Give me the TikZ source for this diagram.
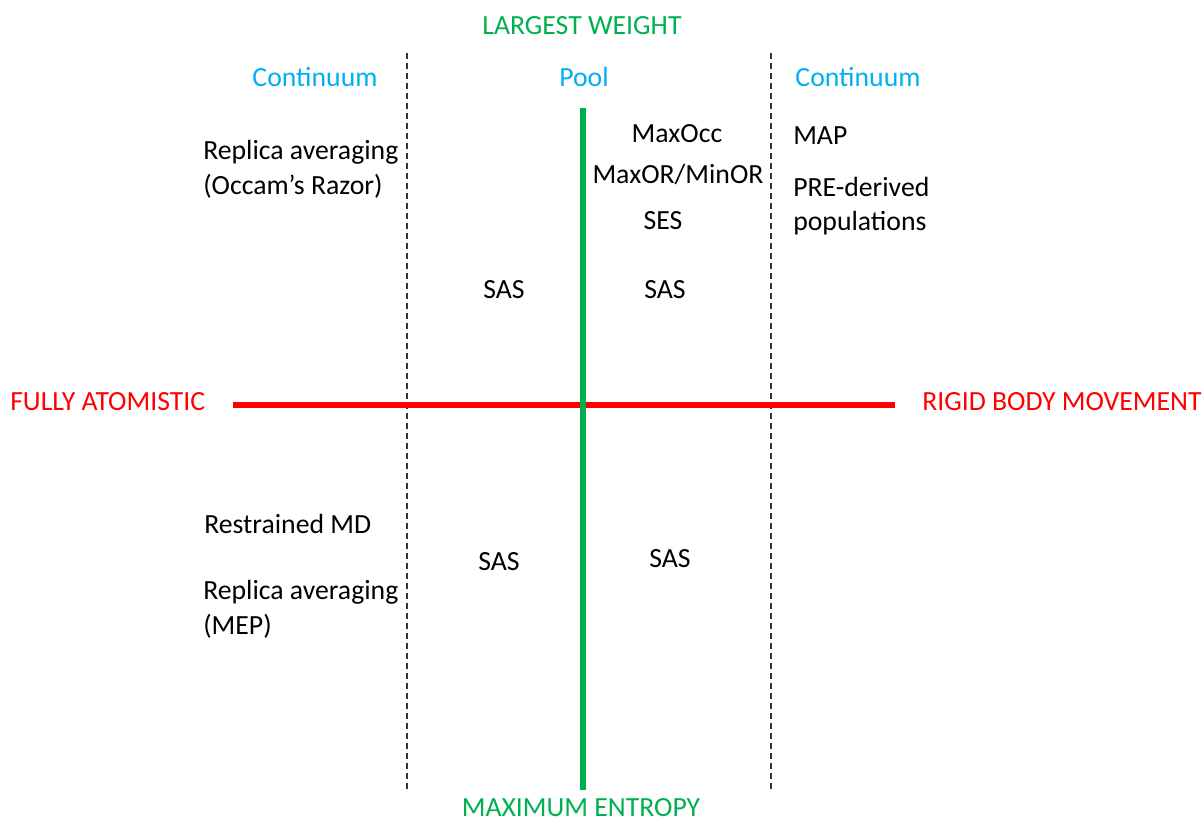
\documentclass[tikz,border=0pt]{standalone}
\usepackage{fontspec}
\setmainfont{Carlito}
\definecolor{mygreen}{RGB}{0,176,80}
\definecolor{myblue}{RGB}{0,176,240}
\definecolor{myred}{RGB}{255,0,0}
\begin{document}
\begin{tikzpicture}[x=0.75pt,y=-0.75pt,
  lbl/.style={font=\fontsize{20.8}{25}\selectfont, inner sep=0pt, text=black},
  blue lbl/.style={lbl, text=myblue},
  green lbl/.style={lbl, text=mygreen},
  red lbl/.style={lbl, text=myred},
  divider/.style={draw=black!80, line width=1.2pt, dash pattern=on 4.5pt off 3pt},
  axisg/.style={draw=mygreen, line width=4.5pt},
  axisr/.style={draw=myred, line width=4.5pt}]
\useasboundingbox (0,0) rectangle (1204,825);
% dividers
\coordinate (d1t) at (407,53); \coordinate (d1b) at (407,790);
\coordinate (d2t) at (771,53); \coordinate (d2b) at (771,790);
\draw[divider] (d1t) -- (d1b);
\draw[divider] (d2t) -- (d2b);
% axes
\coordinate (gt) at (583,108); \coordinate (gb) at (583,790);
\coordinate (rl) at (233,405); \coordinate (rr) at (895,405);
\draw[axisr] (rl) -- (rr);
\draw[axisg] (gt) -- (gb);
% axis labels
\node[green lbl] (lw) at (582,26) {LARGEST WEIGHT};
\node[green lbl, anchor=base] (me) at (581,816) {MAXIMUM ENTROPY};
\node[red lbl, anchor=west] (fa) at (10,402) {FULLY ATOMISTIC};
\node[red lbl, anchor=west] (rb) at (922,402) {RIGID BODY MOVEMENT};
% column headers
\node[blue lbl] (c1) at (315,77) {Continuum};
\node[blue lbl] (pool) at (584,77) {Pool};
\node[blue lbl] (c2) at (858,77) {Continuum};
% upper left
\node[lbl, anchor=west, align=left] (ra1) at (203,169) {Replica averaging\\[1pt](Occam’s Razor)};
\node[lbl] (sas1) at (504,290) {SAS};
% upper middle-right
\node[lbl] (maxocc) at (677,134) {MaxOcc};
\node[lbl] (maxor) at (678,174) {MaxOR/MinOR};
\node[lbl] (ses) at (663,221) {SES};
\node[lbl] (sas2) at (665,290) {SAS};
% upper right
\node[lbl, anchor=west] (map) at (793,136) {MAP};
\node[lbl, anchor=west, align=left] (pre) at (793,206) {PRE-derived\\[1pt]populations};
% lower
\node[lbl, anchor=west] (rmd) at (204,524) {Restrained MD};
\node[lbl, anchor=west, align=left] (ra2) at (203,609) {Replica averaging\\[1pt](MEP)};
\node[lbl] (sas3) at (499,562) {SAS};
\node[lbl] (sas4) at (670,559) {SAS};
\end{tikzpicture}
\end{document}
